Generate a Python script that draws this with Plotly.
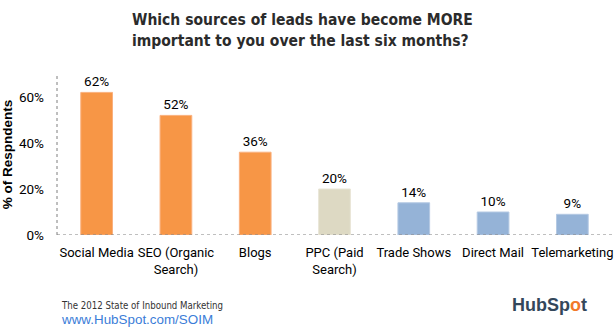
import plotly.graph_objects as go

categories = ["Social Media", "SEO (Organic<br>Search)", "Blogs", "PPC (Paid<br>Search)",
              "Trade Shows", "Direct Mail", "Telemarketing"]
values = [62, 52, 36, 20, 14, 10, 9]
bar_colors = ["#F79646", "#F79646", "#F79646", "#DDD9C3", "#95B3D7", "#95B3D7", "#95B3D7"]
line_colors = ["#FAB07E", "#FAB07E", "#FAB07E", "#E8E5D6", "#B4C9E3", "#B4C9E3", "#B4C9E3"]
y_ticks = [0, 20, 40, 60]
y_tick_labels = ["0%", "20%", "40%", "60%"]
title_lines = ["Which sources of leads have become MORE",
               "important to you over the last six months?"]

W, H = 615, 333
L, R, T, B = 57, 3, 74, 98
pw = W - L - R
ph = H - T - B

def px_x(px):
    return (px - L) / pw

def px_y(py):
    return (H - B - py) / ph

body_font = "Roboto, 'Liberation Sans', sans-serif"
title_font = "'Liberation Sans Narrow', 'DejaVu Sans Condensed', 'Arial Narrow', 'Liberation Sans', sans-serif"

fig = go.Figure(go.Bar(
    x=categories, y=values,
    marker=dict(color=bar_colors, line=dict(color=line_colors, width=1)),
    width=0.4,
    text=[f"{v}%" for v in values], textposition="outside",
    textfont=dict(family=body_font, size=13.5, color="#000"),
    cliponaxis=False,
))

annotations = []
for i, line in enumerate(title_lines):
    annotations.append(dict(
        text=line, xref="paper", yref="paper",
        x=px_x(130), y=px_y(20 + 21 * i), xanchor="left", yanchor="middle",
        showarrow=False,
        font=dict(family=title_font, size=15.5, color="#2b2b2b", weight="bold")))

annotations += [
    dict(text="The 2012 State of Inbound Marketing", xref="paper", yref="paper",
         x=px_x(60), y=px_y(305), xanchor="left", yanchor="middle",
         showarrow=False, borderpad=0,
         font=dict(family=title_font, size=9.6, color="#333")),
    dict(text="www.HubSpot.com/SOIM", xref="paper", yref="paper",
         x=px_x(60), y=px_y(319), xanchor="left", yanchor="middle",
         showarrow=False, borderpad=0,
         font=dict(family="'Liberation Sans', Arial, sans-serif", size=13.4, color="#3B7DD8")),
    dict(text="HubSp<span style='color:#F2792A'>o</span>t", xref="paper", yref="paper",
         x=px_x(549), y=px_y(305), xanchor="center", yanchor="middle",
         showarrow=False,
         font=dict(family="'Liberation Sans', sans-serif", size=18, color="#33475B", weight="bold")),
]

fig.update_layout(
    width=W, height=H,
    margin=dict(l=L, r=R, t=T, b=B, autoexpand=False),
    paper_bgcolor="white", plot_bgcolor="white",
    showlegend=False,
    xaxis=dict(showgrid=False, showline=False, ticks="", zeroline=False, automargin=False,
               tickangle=0,
               tickfont=dict(family=body_font, size=13, color="#000"),
               ticklabelstandoff=8),
    yaxis=dict(range=[0, 70], tickvals=y_ticks, ticktext=y_tick_labels, automargin=False,
               showgrid=False, showline=False, zeroline=False, ticks="",
               ticklabelstandoff=12,
               tickfont=dict(family=body_font, size=13.5, color="#000"),
               title=dict(text="% of Respndents", standoff=12,
                          font=dict(family="'Liberation Sans', Arial, sans-serif", size=13.5,
                                    color="#000", weight="bold"))),
    shapes=[
        dict(type="line", xref="paper", yref="y", x0=0, x1=px_x(615), y0=0, y1=0,
             line=dict(color="#7f7f7f", width=1, dash="dot")),
        dict(type="line", xref="paper", yref="y", x0=0, x1=0, y0=0, y1=70,
             line=dict(color="#7f7f7f", width=1, dash="dot")),
    ],
    annotations=annotations,
)

fig.write_html("out.html")
